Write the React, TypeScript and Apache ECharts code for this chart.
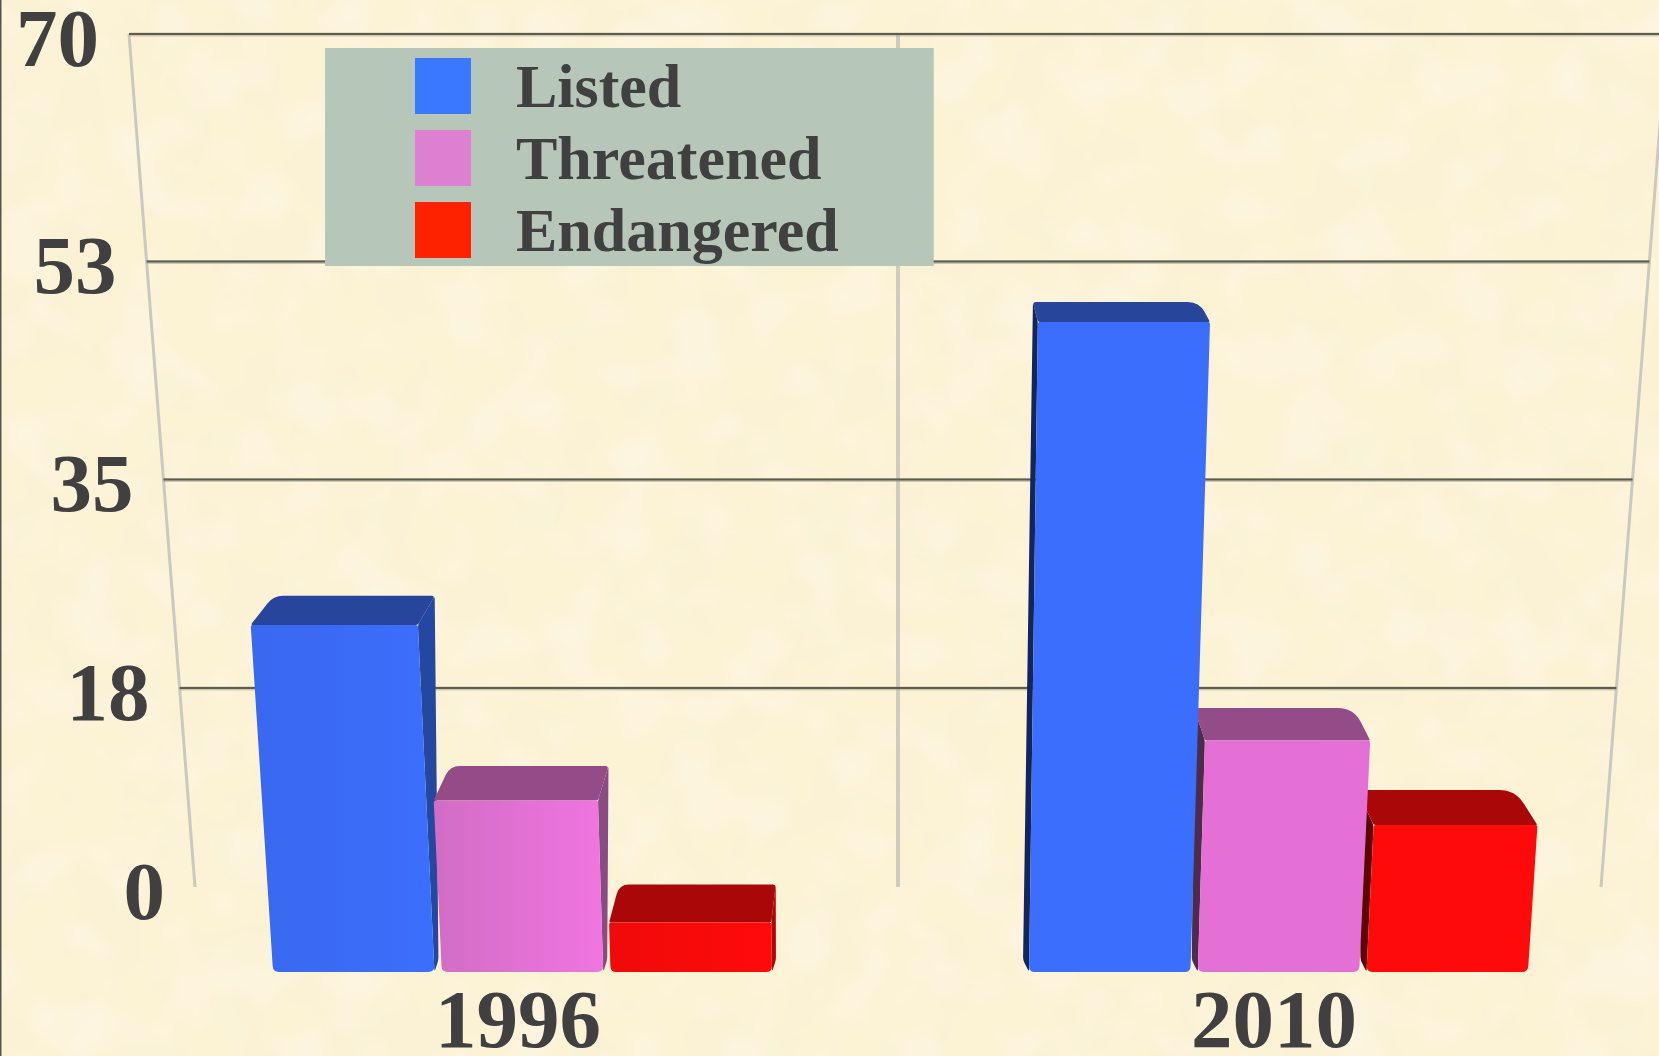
import React, { useEffect, useRef } from "react";
import * as echarts from "echarts";

const years = ["1996", "2010"];
const listed = [26.7, 50];
const threatened = [13.2, 17.8];
const endangered = [3.8, 11.3];
const wallTicks = [0, 17.5, 35, 52.5, 70];
const wallLabels = ["0", "18", "35", "53", "70"];

const FONT = '"Liberation Serif", "Times New Roman", serif';
const INK = "#404040";

const textureSvg = `<svg xmlns="http://www.w3.org/2000/svg" width="1659" height="1056"><filter id="n" x="0" y="0" width="100%" height="100%"><feTurbulence type="fractalNoise" baseFrequency="0.014" numOctaves="3" seed="7"/><feColorMatrix values="0 0 0 0 0.95 0 0 0 0 0.89 0 0 0 0 0.68 1.1 0 0 0 -0.42"/></filter><filter id="m" x="0" y="0" width="100%" height="100%"><feTurbulence type="fractalNoise" baseFrequency="0.018" numOctaves="2" seed="21"/><feColorMatrix values="0 0 0 0 1 0 0 0 0 0.95 0 0 0 0 0.87 1 0 0 0 -0.42"/></filter><rect width="1659" height="1056" fill="#fcf2d4"/><rect width="1659" height="1056" filter="url(#n)"/><rect width="1659" height="1056" filter="url(#m)"/></svg>`;

// Layout of the pseudo-3D room, in page pixels
const CX = 898;
const GRID_TOP = 62;
const GRID_BOTTOM = 972;
const WALL_TOP = 34;
const WALL_BOTTOM = 887;
const WALL_LEFT_TOP = 129;
const WALL_LEFT_BOTTOM = 195;
const LEAN = 0.000103;
const DEPTH_X = 0.035;

const wallY = (t: number) => WALL_BOTTOM - (WALL_BOTTOM - WALL_TOP) * (0.911 * t + 0.089 * t * t);
const wallX = (y: number) =>
  WALL_LEFT_BOTTOM + ((WALL_LEFT_TOP - WALL_LEFT_BOTTOM) * (WALL_BOTTOM - y)) / (WALL_BOTTOM - WALL_TOP);

function roundedPath(points: number[][], radius: number | number[]) {
  const n = points.length;
  let d = "";
  for (let i = 0; i < n; i++) {
    const p = points[i];
    const a = points[(i + n - 1) % n];
    const b = points[(i + 1) % n];
    const la = Math.hypot(a[0] - p[0], a[1] - p[1]) || 1;
    const lb = Math.hypot(b[0] - p[0], b[1] - p[1]) || 1;
    const want = Array.isArray(radius) ? radius[i] : radius;
    const r = Math.min(want, la / 2, lb / 2);
    const s = [p[0] + ((a[0] - p[0]) * r) / la, p[1] + ((a[1] - p[1]) * r) / la];
    const e = [p[0] + ((b[0] - p[0]) * r) / lb, p[1] + ((b[1] - p[1]) * r) / lb];
    d += `${i === 0 ? "M" : "L"}${s[0]} ${s[1]}Q${p[0]} ${p[1]} ${e[0]} ${e[1]}`;
  }
  return d + "Z";
}

type Palette = {
  faceA: string;
  faceB: string;
  faceC: string;
  top: string;
  sideLit: string;
  sideDark: string;
};

function barRenderer(seriesIndex: number, pal: Palette) {
  return (params: any, api: any) => {
    const cat = api.value(0);
    const band = api.size([1, 0])[0];
    const center = api.coord([cat, 0])[0];
    const base = api.coord([cat, 0])[1];
    const top = api.coord([cat, api.value(1)])[1];
    const h = base - top;
    const left = center + band * (-0.324 + 0.2232 * seriesIndex);
    const right = left + band * 0.2135;

    const lean = (x: number) => CX + (x - CX) * (1 + LEAN * h);
    const fl = lean(left);
    const fr = lean(right);
    const d = 39.5 - 0.03 * h;
    const backY = top - d;
    const bl = fl + (CX - fl) * DEPTH_X;
    const br = fr + (CX - fr) * DEPTH_X;
    const leftOfCentre = center < CX;
    const z2 = leftOfCentre ? 10 + seriesIndex * 3 : 30 - seriesIndex * 3;

    const face = new echarts.graphic.LinearGradient(0, 0, 1, 0, leftOfCentre
      ? [
          { offset: 0, color: pal.faceA },
          { offset: 1, color: pal.faceB },
        ]
      : [
          { offset: 0, color: pal.faceC },
          { offset: 1, color: pal.faceC },
        ]);

    const sidePts = leftOfCentre
      ? [[fr, top], [br, backY], [right + 4, base - 12], [right, base]]
      : [[fl, top], [bl, backY], [left - 6, base - 12], [left, base]];

    return {
      type: "group",
      children: [
        {
          type: "path",
          z2,
          shape: { pathData: roundedPath(sidePts, 3) },
          style: { fill: leftOfCentre ? pal.sideLit : pal.sideDark },
        },
        {
          type: "path",
          z2: z2 + 1,
          shape: {
            pathData: roundedPath(
              [[fl, top], [bl, backY], [br, backY], [fr, top]],
              leftOfCentre ? [2, 10, 3, 2] : [2, 3, 16, 2]
            ),
          },
          style: { fill: pal.top },
        },
        {
          type: "path",
          z2: z2 + 2,
          shape: {
            pathData: roundedPath([[fl, top], [fr, top], [right, base], [left, base]], [2, 2, 6, 6]),
          },
          style: { fill: face },
        },
      ],
    };
  };
}

function wallRenderer(params: any, api: any) {
  const v = api.value(1);
  const y = api.coord([0, v])[1];
  const t = (GRID_BOTTOM - y) / (GRID_BOTTOM - GRID_TOP);
  const wy = wallY(t);
  const xl = wallX(wy);
  const xr = 2 * CX - xl;
  const children: any[] = [];
  if (params.dataIndex === 0) {
    const slant = { stroke: "#cbc9bf", lineWidth: 3 };
    children.push(
      { type: "line", z2: 1, shape: { x1: WALL_LEFT_TOP, y1: WALL_TOP, x2: WALL_LEFT_BOTTOM, y2: WALL_BOTTOM }, style: slant },
      { type: "line", z2: 1, shape: { x1: 2 * CX - WALL_LEFT_TOP, y1: WALL_TOP, x2: 2 * CX - WALL_LEFT_BOTTOM, y2: WALL_BOTTOM }, style: slant },
      { type: "line", z2: 1, shape: { x1: CX, y1: WALL_TOP, x2: CX, y2: WALL_BOTTOM }, style: { stroke: "#cfcbbd", lineWidth: 4 } }
    );
  }
  if (v > 0) {
    children.push(
      {
        type: "line",
        z2: 2,
        shape: { x1: xl, y1: wy + 0.5, x2: xr, y2: wy + 0.5 },
        style: { stroke: "#a9a592", lineWidth: 4, opacity: 0.55 },
      },
      {
        type: "line",
        z2: 2,
        shape: { x1: xl, y1: wy, x2: xr, y2: wy },
        style: { stroke: "#5e5c52", lineWidth: 2 },
      }
    );
  }
  children.push({
    type: "text",
    z2: 3,
    style: {
      text: wallLabels[params.dataIndex],
      x: xl - 30,
      y: wy + 4,
      align: "right",
      verticalAlign: "middle",
      fontFamily: FONT,
      fontWeight: "bold",
      fontSize: 83,
      fill: INK,
    },
  });
  return { type: "group", children };
}

const palettes: Palette[] = [
  { faceA: "#3a68f0", faceB: "#3b6efc", faceC: "#3b6efc", top: "#26459b", sideLit: "#24479f", sideDark: "#12265c" },
  { faceA: "#d16dc4", faceB: "#f075e0", faceC: "#e470d5", top: "#934c88", sideLit: "#8a4a84", sideDark: "#4c2c4c" },
  { faceA: "#f00a0a", faceB: "#ff0a0a", faceC: "#ff0a0a", top: "#aa0808", sideLit: "#b00606", sideDark: "#5c0505" },
];

export default function App() {
  const ref = useRef<HTMLDivElement>(null);

  useEffect(() => {
    document.body.style.margin = "0";
    const chart = echarts.init(ref.current!, null, { renderer: "svg" });
    const barSeries = [
      { name: "Listed", values: listed, swatch: "#3a78ff" },
      { name: "Threatened", values: threatened, swatch: "#dd80d2" },
      { name: "Endangered", values: endangered, swatch: "#ff2200" },
    ].map((s, i) => ({
      type: "custom" as const,
      name: s.name,
      renderItem: barRenderer(i, palettes[i]),
      encode: { x: 0, y: 1 },
      itemStyle: { color: s.swatch },
      clip: false,
      data: s.values.map((v, k) => [k, v]),
    }));

    chart.setOption({
      animation: false,
      backgroundColor: "transparent",
      graphic: [
        { type: "rect", shape: { x: 0, y: 0, width: 1.5, height: 1056 }, style: { fill: "#55544e" } },
      ],
      legend: {
        left: 325,
        top: 48,
        orient: "vertical",
        align: "left",
        backgroundColor: "#b6c6b8",
        padding: [7, 95, 5, 90],
        itemWidth: 56,
        itemHeight: 56,
        itemGap: 10,
        icon: "rect",
        selectedMode: false,
        data: ["Listed", "Threatened", "Endangered"],
        textStyle: {
          fontFamily: FONT,
          fontWeight: "bold",
          fontSize: 62,
          color: INK,
          padding: [0, 0, 5, 40],
        },
      },
      grid: {
        left: 140,
        right: 7,
        top: GRID_TOP,
        bottom: 1056 - GRID_BOTTOM,
        containLabel: false,
        outerBoundsMode: "none",
      },
      xAxis: {
        type: "category",
        data: years,
        axisLine: { show: false },
        axisTick: { show: false },
        axisLabel: {
          margin: 5,
          fontFamily: FONT,
          fontWeight: "bold",
          fontSize: 83,
          color: INK,
          verticalAlign: "top",
        },
      },
      yAxis: {
        type: "value",
        min: 0,
        max: 70,
        interval: 17.5,
        show: false,
      },
      series: [
        {
          type: "custom",
          name: "wall",
          z: 2,
          clip: false,
          renderItem: wallRenderer,
          encode: { x: 0, y: 1 },
          data: wallTicks.map((v) => [0, v]),
        },
        ...barSeries,
      ],
    });
    return () => chart.dispose();
  }, []);

  return (
    <div
      ref={ref}
      style={{
        width: 1659,
        height: 1056,
        backgroundImage: `url("data:image/svg+xml,${encodeURIComponent(textureSvg)}")`,
        backgroundSize: "1659px 1056px",
      }}
    />
  );
}
